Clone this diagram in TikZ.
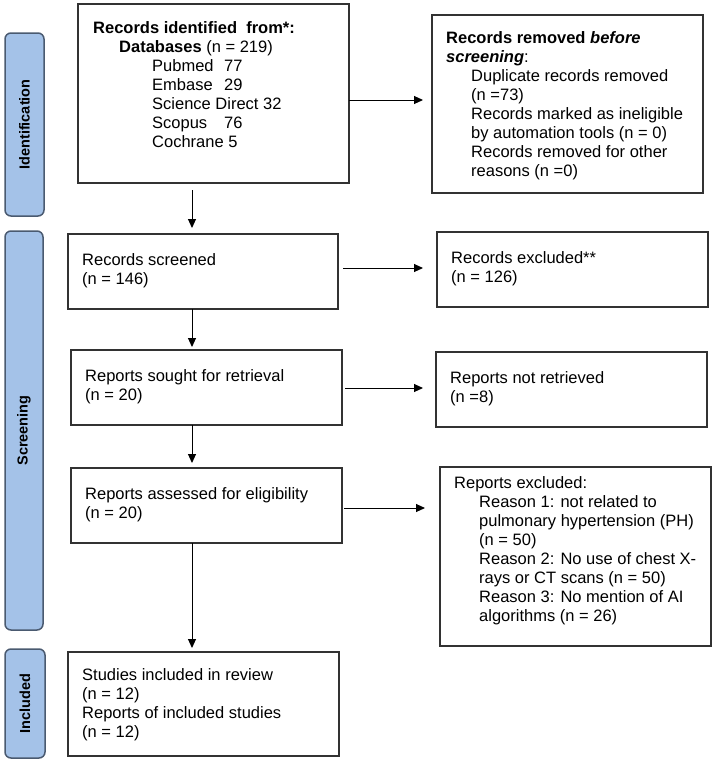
\documentclass[tikz,border=0pt]{standalone}
\usepackage{fontspec}
\setmainfont{Liberation Sans}
\usetikzlibrary{arrows.meta}
\definecolor{barfill}{RGB}{164,194,232}
\definecolor{barline}{RGB}{74,90,112}
\definecolor{boxline}{RGB}{50,50,50}
\begin{document}
\begin{tikzpicture}[x=1pt,y=-1pt,
  box/.style={draw=boxline, line width=1.3pt, inner sep=0pt, outer sep=0pt, anchor=north west},
  txt/.style={anchor=north west, inner sep=0pt, align=left, font=\fontsize{16.5}{19}\selectfont},
  bar/.style={draw=barline, fill=barfill, line width=1.5pt, rounded corners=6pt, rotate=90, inner sep=0pt, outer sep=0pt, font=\fontsize{14.5}{17}\selectfont\bfseries},
  arr/.style={-{Triangle[length=9pt,width=8pt]}, line width=1pt}]
\useasboundingbox (0,0) rectangle (715,763);

% side bars
\node[bar, minimum width=183, minimum height=39] (idbar) at (24.5,124.5) {Identification};
\node[bar, minimum width=399, minimum height=38] (scbar) at (24,430.5) {Screening};
\node[bar, minimum width=109, minimum height=40] (inbar) at (25,703.5) {Included};

% boxes
\node[box, minimum width=271, minimum height=179] (b1) at (78,4) {};
\node[box, minimum width=271, minimum height=178] (b2) at (432,15) {};
\node[box, minimum width=270, minimum height=75] (scr) at (68,234) {};
\node[box, minimum width=271, minimum height=75] (rex) at (437,232) {};
\node[box, minimum width=271, minimum height=75] (sought) at (71,350) {};
\node[box, minimum width=271, minimum height=75] (notret) at (436,352) {};
\node[box, minimum width=271, minimum height=75] (assess) at (71,468) {};
\node[box, minimum width=271, minimum height=179] (repex) at (440,467) {};
\node[box, minimum width=271, minimum height=104] (incl) at (68,652) {};

% texts
\node[txt] (t1) at (93,20.2) {\strut\textbf{Records identified\ \ from*:}\\
\hspace*{26pt}\textbf{Databases} (n = 219)\\
\hspace*{59pt}\makebox[72pt][l]{Pubmed}77\\
\hspace*{59pt}\makebox[72pt][l]{Embase}29\\
\hspace*{59pt}Science Direct 32\\
\hspace*{59pt}\makebox[72pt][l]{Scopus}76\\
\hspace*{59pt}Cochrane 5};
\node[txt] (t2) at (446,30.2) {\strut\textbf{Records removed \textit{before}}\\
\textbf{\textit{screening}}:\\
\hspace*{25pt}Duplicate records removed\\
\hspace*{25pt}(n =73)\\
\hspace*{25pt}Records marked as ineligible\\
\hspace*{25pt}by automation tools (n = 0)\\
\hspace*{25pt}Records removed for other\\
\hspace*{25pt}reasons (n =0)};
\node[txt] (t3) at (82,252.2) {\strut Records screened\\(n = 146)};
\node[txt] (t4) at (451,250.2) {\strut Records excluded**\\(n = 126)};
\node[txt] (t5) at (85,368.2) {\strut Reports sought for retrieval\\(n = 20)};
\node[txt] (t6) at (450,370.2) {\strut Reports not retrieved\\(n =8)};
\node[txt] (t7) at (85,486.2) {\strut Reports assessed for eligibility\\(n = 20)};
\node[txt] (t8) at (454,475.2) {\strut Reports excluded:\\
\hspace*{25pt}Reason 1: not related to\\
\hspace*{25pt}pulmonary hypertension (PH)\\
\hspace*{25pt}(n = 50)\\
\hspace*{25pt}Reason 2: No use of chest X-\\
\hspace*{25pt}rays or CT scans (n = 50)\\
\hspace*{25pt}Reason 3: No mention of AI\\
\hspace*{25pt}algorithms (n = 26)};
\node[txt] (t9) at (82,667.2) {\strut Studies included in review\\(n = 12)\\Reports of included studies\\(n = 12)};

% connectors
\coordinate (cx) at (192,0);
\coordinate (r1) at (0,100);
\coordinate (r2) at (0,268);
\coordinate (r3) at (0,388);
\coordinate (r4) at (0,508);
\draw[arr, shorten <=7pt, shorten >=6pt] (b1.south -| cx) -- (scr.north -| cx);
\draw[arr, shorten >=3pt] (scr.south -| cx) -- (sought.north -| cx);
\draw[arr, shorten >=5pt] (sought.south -| cx) -- (assess.north -| cx);
\draw[arr, shorten >=4pt] (assess.south -| cx) -- (incl.north -| cx);
\draw[arr, shorten >=9pt] (b1.east |- r1) -- (b2.west |- r1);
\draw[arr, shorten <=5pt, shorten >=14pt] (scr.east |- r2) -- (rex.west |- r2);
\draw[arr, shorten <=3pt, shorten >=13pt] (sought.east |- r3) -- (notret.west |- r3);
\draw[arr, shorten <=2pt, shorten >=15pt] (assess.east |- r4) -- (repex.west |- r4);
\end{tikzpicture}
\end{document}
